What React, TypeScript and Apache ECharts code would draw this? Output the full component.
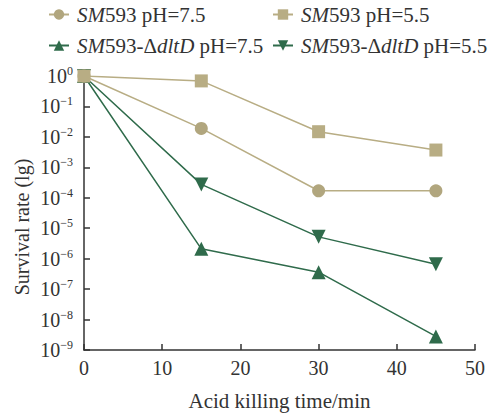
import React, { useEffect, useRef } from "react";
import * as echarts from "echarts";

const times = [0, 15, 30, 45];
const wtPH75 = [1, 0.019, 1.7e-4, 1.7e-4];
const wtPH55 = [1, 0.69, 0.0148, 0.0037];
const mutPH75 = [1, 2.1e-6, 3.6e-7, 2.8e-9];
const mutPH55 = [1, 2.75e-4, 5.2e-6, 6.6e-7];

const names = ["wt75", "wt55", "mut75", "mut55"];
const legendLabels = [
  "{it|SM}{n|593 pH=7.5}",
  "{it|SM}{n|593 pH=5.5}",
  "{it|SM}{n|593-Δ}{it|dltD}{n| pH=7.5}",
  "{it|SM}{n|593-Δ}{it|dltD}{n| pH=5.5}",
];

const TAN = "#b1a67e";
const TAN2 = "#b8ad84";
const GREEN = "#2f6b4b";
const FONT = "Liberation Serif";
const TXT = "#333";

export default function App() {
  const ref = useRef<HTMLDivElement>(null);
  useEffect(() => {
    const chart = echarts.init(ref.current!, null, { renderer: "svg" });
    const pair = (arr: number[]) => times.map((t, i) => [t, arr[i]]);
    const legendPos = [
      { left: 48, top: 4 },
      { left: 272, top: 4 },
      { left: 48, top: 35 },
      { left: 272, top: 35 },
    ];
    const legends = names.map((n, i) => ({
      data: [n],
      left: legendPos[i].left,
      top: legendPos[i].top,
      align: "left",
      padding: 0,
      itemWidth: 20,
      itemHeight: 13,
      formatter: () => legendLabels[i],
      textStyle: {
        fontFamily: FONT,
        fontSize: 21,
        color: TXT,
        padding: [0, 0, 0, 3],
        rich: {
          it: { fontStyle: "italic", fontFamily: FONT, fontSize: 21, color: TXT },
          n: { fontFamily: FONT, fontSize: 21, color: TXT },
        },
      },
    }));
    const option: any = {
      animation: false,
      legend: legends,
      grid: { left: 84, right: 20, top: 76, bottom: 58 },
      xAxis: {
        type: "value",
        min: 0,
        max: 50,
        interval: 10,
        name: "Acid killing time/min",
        nameLocation: "middle",
        nameGap: 40,
        nameTextStyle: { fontFamily: FONT, fontSize: 21, color: TXT },
        axisLine: { lineStyle: { color: TXT, width: 1.5 } },
        axisTick: { inside: true, length: 6, lineStyle: { color: TXT, width: 1.5 } },
        axisLabel: { fontFamily: FONT, fontSize: 20, color: TXT, margin: 8 },
        splitLine: { show: false },
      },
      yAxis: {
        type: "log",
        logBase: 10,
        min: 1e-9,
        max: 1,
        name: "Survival rate (lg)",
        nameLocation: "middle",
        nameGap: 52,
        nameMoveOverlap: false,
        nameTextStyle: { fontFamily: FONT, fontSize: 20, color: TXT, padding: [0, 28, 0, 0] },
        axisLine: { show: true, lineStyle: { color: TXT, width: 1.5 } },
        axisTick: { show: true, inside: true, length: 6, lineStyle: { color: TXT, width: 1.5 } },
        splitLine: { show: false },
        axisLabel: {
          margin: 11,
          formatter: (v: number) => {
            const e = Math.round(Math.log10(v));
            return "{b|10}{s|" + (e === 0 ? "0" : "−" + -e) + "}";
          },
          rich: {
            b: { fontFamily: FONT, fontSize: 20, color: TXT, lineHeight: 22 },
            s: { fontFamily: FONT, fontSize: 12, color: TXT, verticalAlign: "top", lineHeight: 12 },
          },
        },
      },
      series: [
        {
          name: "mut75",
          type: "line",
          data: pair(mutPH75),
          symbol: "triangle",
          symbolSize: 14,
          lineStyle: { color: GREEN, width: 1.5 },
          itemStyle: { color: GREEN },
        },
        {
          name: "mut55",
          type: "line",
          data: pair(mutPH55),
          symbol: "triangle",
          symbolRotate: 180,
          symbolSize: 14,
          lineStyle: { color: GREEN, width: 1.5 },
          itemStyle: { color: GREEN },
        },
        {
          name: "wt75",
          type: "line",
          data: pair(wtPH75),
          symbol: "circle",
          symbolSize: 13,
          lineStyle: { color: TAN2, width: 1.5 },
          itemStyle: { color: TAN },
        },
        {
          name: "wt55",
          type: "line",
          data: pair(wtPH55),
          symbol: "rect",
          symbolSize: 13,
          lineStyle: { color: TAN2, width: 1.5 },
          itemStyle: { color: TAN2 },
        },
      ],
    };
    chart.setOption(option);
    return () => chart.dispose();
  }, []);
  return (
    <div
      ref={ref}
      style={{ position: "absolute", left: 0, top: 0, width: 495, height: 416 }}
    />
  );
}
